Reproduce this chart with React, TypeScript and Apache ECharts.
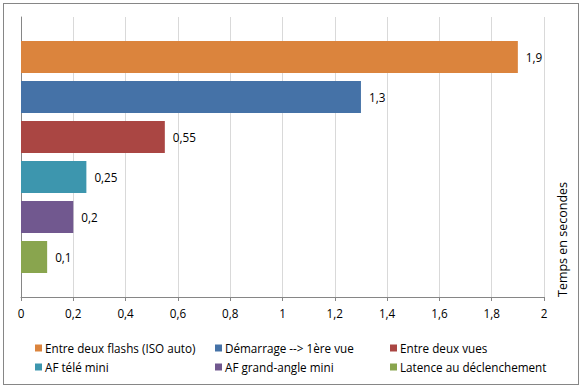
import React, { useEffect, useRef } from "react";
import * as echarts from "echarts";

const seriesNames = [
  "Entre deux flashs (ISO auto)",
  "Démarrage --> 1ère vue",
  "Entre deux vues",
  "AF télé mini",
  "AF grand-angle mini",
  "Latence au déclenchement",
];
const seriesValues = [1.9, 1.3, 0.55, 0.25, 0.2, 0.1];
const seriesColors = ["#DB843D", "#4572A7", "#AA4643", "#3D96AE", "#71588F", "#89A54E"];
const categories = [""];
const axisTitle = "Temps en secondes";

const FONT = "Open Sans";
const FS = 11.7;
const fmt = (v: number) => String(v).replace(".", ",");

export default function App() {
  const ref = useRef<HTMLDivElement>(null);
  useEffect(() => {
    const chart = echarts.init(ref.current!, null, { renderer: "svg" });
    const legendCols = [
      { left: 35, names: [seriesNames[0], seriesNames[3]] },
      { left: 215, names: [seriesNames[1], seriesNames[4]] },
      { left: 390, names: [seriesNames[2], seriesNames[5]] },
    ];
    chart.setOption({
      animation: false,
      textStyle: { fontFamily: FONT },
      grid: { left: 21, right: 38, top: 17, bottom: 91, containLabel: false },
      legend: legendCols.map((c) => ({
        left: c.left,
        top: 341,
        orient: "vertical",
        itemWidth: 7,
        itemHeight: 7,
        itemGap: 5,
        padding: 0,
        icon: "rect",
        data: c.names,
        textStyle: { fontFamily: FONT, fontSize: FS, color: "#000", padding: [0, 0, 0, -2], lineHeight: 14 },
      })),
      xAxis: {
        type: "value",
        min: 0,
        max: 2,
        interval: 0.2,
        axisLine: { show: true, lineStyle: { color: "#868686" } },
        axisTick: { show: true, length: 4, lineStyle: { color: "#868686" } },
        axisLabel: {
          formatter: (v: number) => fmt(Math.round(v * 10) / 10),
          color: "#000",
          fontFamily: FONT,
          fontSize: FS,
          margin: 10,
        },
        splitLine: { show: true, lineStyle: { color: "#d9d9d9" } },
      },
      yAxis: {
        type: "category",
        data: categories,
        inverse: true,
        axisLine: { show: true, lineStyle: { color: "#868686" } },
        axisTick: { show: false },
        axisLabel: { show: false },
      },
      series: seriesNames.map((name, i) => ({
        type: "bar",
        name,
        data: [seriesValues[i]],
        barWidth: 32,
        barGap: "25%",
        itemStyle: { color: seriesColors[i] },
        label: {
          show: true,
          position: "right",
          distance: 8,
          formatter: (p: any) => fmt(p.value),
          color: "#000",
          fontFamily: FONT,
          fontSize: FS,
        },
      })),
      graphic: [
        {
          type: "text",
          x: 562,
          y: 297,
          rotation: Math.PI / 2,
          style: {
            text: axisTitle,
            fontFamily: FONT,
            fontSize: 12.5,
            fill: "#000",
            textAlign: "left",
            textVerticalAlign: "middle",
          },
        },
      ],
    });
    return () => chart.dispose();
  }, []);
  return (
    <div style={{ position: "absolute", left: 0, top: 0, width: 582, height: 388 }}>
      <div ref={ref} style={{ position: "absolute", left: 0, top: 0, width: 582, height: 388 }} />
      <div
        style={{
          position: "absolute",
          left: 3,
          top: 3,
          width: 574,
          height: 380,
          border: "1px solid #868686",
          pointerEvents: "none",
        }}
      />
    </div>
  );
}
